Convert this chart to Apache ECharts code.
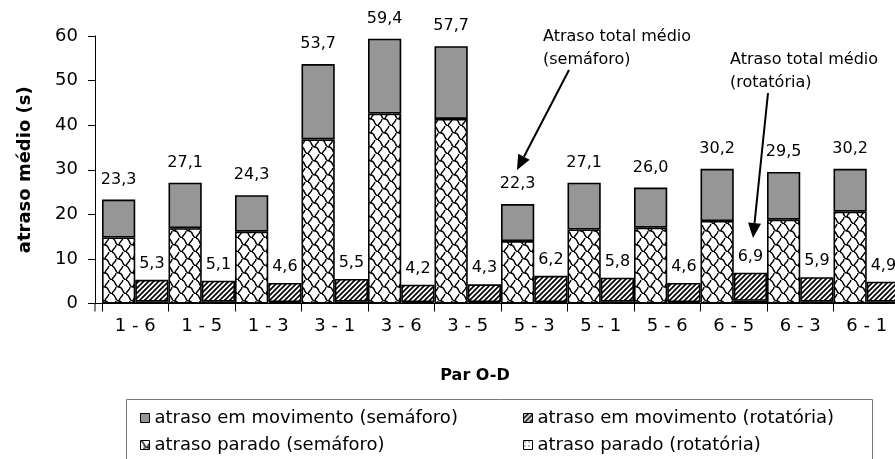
<!DOCTYPE html>
<html>
<head>
<meta charset="utf-8">
<script src="https://cdn.jsdelivr.net/npm/echarts@6/dist/echarts.min.js"></script>
<style>
  html, body { margin: 0; padding: 0; background: #fff; }
  #chart { width: 895px; height: 459px; }
</style>
</head>
<body>
<div id="chart"></div>
<script>
// Origin-destination pairs and mean delays (s)
const categories = ['1 - 6', '1 - 5', '1 - 3', '3 - 1', '3 - 6', '3 - 5', '5 - 3', '5 - 1', '5 - 6', '6 - 5', '6 - 3', '6 - 1'];
const semaforoTotal = [23.3, 27.1, 24.3, 53.7, 59.4, 57.7, 22.3, 27.1, 26.0, 30.2, 29.5, 30.2];
const semaforoParado = [14.8, 16.9, 16.1, 36.8, 42.6, 41.4, 14.0, 16.6, 17.0, 18.5, 18.8, 20.6];
const rotatoriaTotal = [5.3, 5.1, 4.6, 5.5, 4.2, 4.3, 6.2, 5.8, 4.6, 6.9, 5.9, 4.9];
const rotatoriaParado = [0.4, 0.4, 0.3, 0.4, 0.3, 0.3, 0.3, 0.4, 0.3, 0.6, 0.4, 0.4];
const yMax = 60;
const yStep = 10;

const semaforoMov = semaforoTotal.map((t, i) => +(t - semaforoParado[i]).toFixed(2));
const rotatoriaMov = rotatoriaTotal.map((t, i) => +(t - rotatoriaParado[i]).toFixed(2));

const FONT = 'DejaVu Sans';
const fmt = v => v.toFixed(1).replace('.', ',');

// Pattern fills
function tile(w, h, draw) {
  const c = document.createElement('canvas');
  c.width = w; c.height = h;
  const g = c.getContext('2d');
  g.fillStyle = '#fff';
  g.fillRect(0, 0, w, h);
  g.strokeStyle = '#000';
  g.fillStyle = '#000';
  draw(g, w, h);
  return { image: c, repeat: 'repeat' };
}
const hatchFill = tile(5, 5, (g, w, h) => {
  g.lineWidth = 1.7;
  g.beginPath();
  g.moveTo(-1, h + 1); g.lineTo(w + 1, -1);
  g.moveTo(-2, 2); g.lineTo(2, -2);
  g.moveTo(w - 2, h + 2); g.lineTo(w + 2, h - 2);
  g.stroke();
});
const dotFill = tile(4, 4, g => { g.fillRect(1, 1, 1, 1); });
const shingleFill = tile(14, 14, (g, w, h) => {
  g.lineWidth = 1.4;
  g.beginPath();
  g.moveTo(-1, 0);
  g.bezierCurveTo(5, 0, 2, 7, 7, 7);
  g.bezierCurveTo(12, 7, 9, 14, 15, 14);
  g.moveTo(7, 7);
  g.bezierCurveTo(7, 3.5, 11, 3.5, 11, -1);
  g.moveTo(0, 15);
  g.bezierCurveTo(0, 10.5, 4, 10.5, 4, 7);
  g.moveTo(14, 15);
  g.bezierCurveTo(14, 10.5, 18, 10.5, 18, 7);
  g.stroke();
});

const border = { borderColor: '#000', borderWidth: 1.6 };

const chart = echarts.init(document.getElementById('chart'), null, { renderer: 'canvas' });

const gridLeft = 102, gridTop = 36, gridBottom = 155.5;
const zeroY = 459 - gridBottom;
const axisX = 95;

function arrow(x1, y1, x2, y2) {
  const ang = Math.atan2(y2 - y1, x2 - x1);
  const L = 15, W = 6.5;
  const bx = x2 - L * Math.cos(ang), by = y2 - L * Math.sin(ang);
  const px = -Math.sin(ang) * W, py = Math.cos(ang) * W;
  return [
    { type: 'line', shape: { x1, y1, x2: bx, y2: by }, style: { stroke: '#000', lineWidth: 2 } },
    { type: 'polygon', shape: { points: [[x2, y2], [bx + px, by + py], [bx - px, by - py]] }, style: { fill: '#000' } }
  ];
}

const legendBase = {
  orient: 'vertical', top: 404,
  itemWidth: 9, itemHeight: 9, itemGap: 9, selectedMode: false,
  icon: 'rect',
  itemStyle: { borderColor: '#000', borderWidth: 1 },
  textStyle: { color: '#000', fontSize: 18, fontFamily: FONT, lineHeight: 18 }
};

const option = {
  backgroundColor: '#fff',
  animation: false,
  textStyle: { fontFamily: FONT },
  grid: { left: gridLeft, right: -5, top: gridTop, bottom: gridBottom, outerBoundsMode: 'none' },
  xAxis: {
    type: 'category',
    data: categories,
    axisLine: { lineStyle: { color: '#000', width: 1 } },
    axisTick: { show: true, length: 8, lineStyle: { color: '#000' } },
    axisLabel: { color: '#000', fontSize: 18, fontFamily: FONT, margin: 14 }
  },
  yAxis: {
    type: 'value',
    min: 0, max: yMax, interval: yStep,
    offset: gridLeft - axisX,
    name: 'atraso médio (s)',
    nameLocation: 'middle',
    nameGap: 61,
    nameRotate: 90,
    nameTextStyle: { color: '#000', fontSize: 18, fontWeight: 'bold', fontFamily: FONT },
    axisLine: { show: true, lineStyle: { color: '#000', width: 1 } },
    axisTick: { show: true, length: 7, lineStyle: { color: '#000' } },
    axisLabel: { color: '#000', fontSize: 18, fontFamily: FONT, margin: 17 },
    splitLine: { show: false }
  },
  legend: [
    Object.assign({ left: 135, data: ['atraso em movimento (semáforo)', 'atraso parado (semáforo)'] }, legendBase),
    Object.assign({ left: 518, data: ['atraso em movimento (rotatória)', 'atraso parado (rotatória)'] }, legendBase)
  ],
  series: [
    {
      name: 'atraso parado (semáforo)', type: 'bar', stack: 'semaforo',
      barGap: '0%', barCategoryGap: '0%',
      data: semaforoParado,
      itemStyle: Object.assign({ color: shingleFill }, border)
    },
    {
      name: 'atraso em movimento (semáforo)', type: 'bar', stack: 'semaforo',
      data: semaforoMov,
      itemStyle: Object.assign({ color: '#969696' }, border),
      label: {
        show: true, position: 'top', distance: 12,
        color: '#000', fontSize: 16, fontFamily: FONT,
        formatter: p => fmt(semaforoTotal[p.dataIndex])
      }
    },
    {
      name: 'atraso parado (rotatória)', type: 'bar', stack: 'rotatoria',
      barGap: '0%', barCategoryGap: '0%',
      data: rotatoriaParado,
      itemStyle: Object.assign({ color: dotFill }, border)
    },
    {
      name: 'atraso em movimento (rotatória)', type: 'bar', stack: 'rotatoria',
      data: rotatoriaMov,
      itemStyle: Object.assign({ color: hatchFill }, border),
      label: {
        show: true, position: 'top', distance: 8,
        color: '#000', fontSize: 16, fontFamily: FONT,
        formatter: p => fmt(rotatoriaTotal[p.dataIndex])
      }
    }
  ],
  graphic: [
    // corner of the axes, left of the first category
    { type: 'line', shape: { x1: axisX, y1: zeroY, x2: gridLeft, y2: zeroY }, style: { stroke: '#000', lineWidth: 1 } },
    { type: 'line', shape: { x1: axisX, y1: zeroY, x2: axisX, y2: zeroY + 8 }, style: { stroke: '#000', lineWidth: 1 } },
    // x axis title
    { type: 'text', x: 475, y: 376, style: { text: 'Par O-D', fill: '#000', font: 'bold 16px "DejaVu Sans"', textAlign: 'center', textVerticalAlign: 'middle' } },
    // legend frame
    { type: 'rect', shape: { x: 126.5, y: 399.5, width: 746, height: 80 }, style: { fill: null, stroke: '#777', lineWidth: 1 } },
    // annotations
    { type: 'text', x: 543, y: 25, style: { text: 'Atraso total médio\n(semáforo)', fill: '#000', font: '16px "DejaVu Sans"', lineHeight: 23 } },
    { type: 'text', x: 730, y: 48, style: { text: 'Atraso total médio\n(rotatória)', fill: '#000', font: '16px "DejaVu Sans"', lineHeight: 23 } },
    ...arrow(569, 70, 517, 170),
    ...arrow(768, 93, 753, 238)
  ]
};

chart.setOption(option);
</script>
</body>
</html>
